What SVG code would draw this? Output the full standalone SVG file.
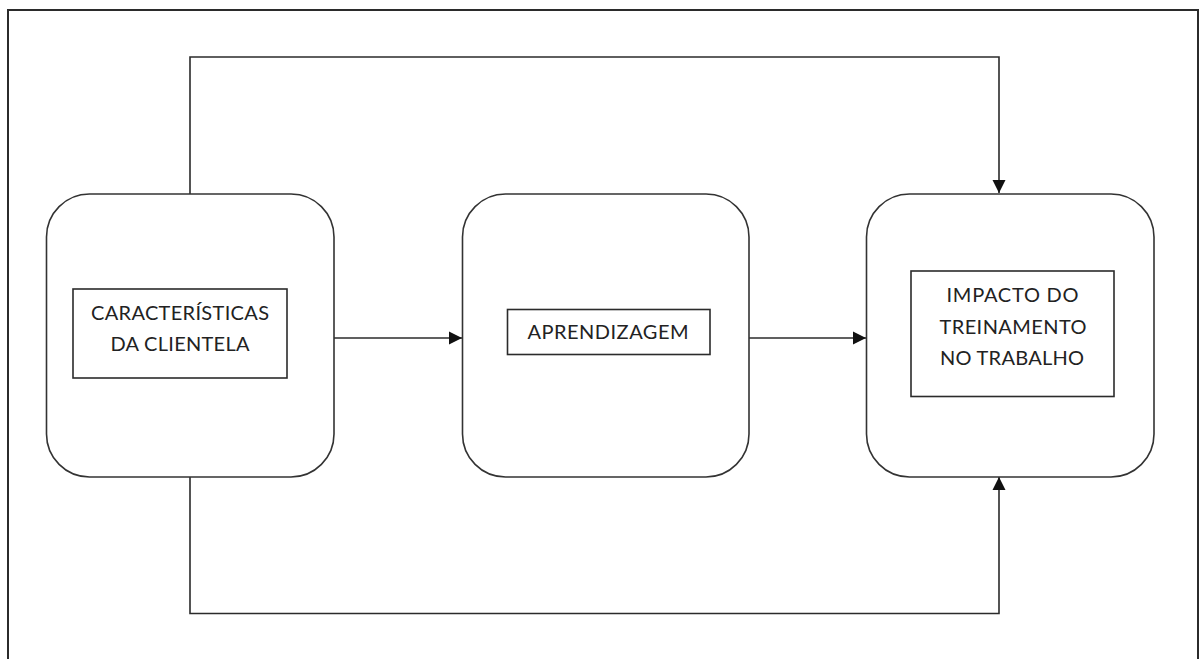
<svg xmlns="http://www.w3.org/2000/svg" width="1199" height="659" viewBox="0 0 1199 659">
  <style>
    .frame { fill: none; stroke: #2b2b2b; stroke-width: 2; }
    .stage { fill: #ffffff; stroke: #333333; stroke-width: 1.6; }
    .label-box { fill: #ffffff; stroke: #2b2b2b; stroke-width: 1.6; }
    .link { fill: none; stroke: #2b2b2b; stroke-width: 1.6; }
    .txt { font-family: "Lato", "Open Sans", "Liberation Sans", sans-serif; font-size: 20px; fill: #222222; text-anchor: middle; }
  </style>
  <defs>
    <marker id="arrow" markerUnits="userSpaceOnUse" markerWidth="14" markerHeight="14" viewBox="0 0 14 14" refX="13" refY="7" orient="auto">
      <path d="M0,0.5 L13,7 L0,13.5 Z" fill="#111111"/>
    </marker>
  </defs>

  <rect width="1199" height="659" fill="#ffffff"/>
  <!-- outer frame -->
  <path class="frame" d="M8,670 V10 H1198 V670"/>

  <!-- connectors -->
  <g id="connectors">
    <path class="link" d="M190,194 V57 H999 V193" marker-end="url(#arrow)"/>
    <path class="link" d="M190,477 V613.5 H999 V477" marker-end="url(#arrow)"/>
    <path class="link" d="M334,338 H462" marker-end="url(#arrow)"/>
    <path class="link" d="M749,338 H866" marker-end="url(#arrow)"/>
  </g>

  <g id="clientela">
    <rect class="stage" x="46.5" y="194" width="287.5" height="283" rx="43" ry="43"/>
    <rect class="label-box" x="73" y="289" width="214" height="89"/>
    <text class="txt" x="180" y="320" textLength="178" lengthAdjust="spacing">CARACTERÍSTICAS</text>
    <text class="txt" x="180" y="350.5" textLength="139" lengthAdjust="spacing">DA CLIENTELA</text>
  </g>

  <g id="aprendizagem">
    <rect class="stage" x="462.5" y="194" width="286.5" height="283" rx="43" ry="43"/>
    <rect class="label-box" x="507.5" y="309.5" width="202.5" height="45"/>
    <text class="txt" x="608" y="338.5" textLength="161" lengthAdjust="spacing">APRENDIZAGEM</text>
  </g>

  <g id="impacto">
    <rect class="stage" x="866.5" y="194" width="287.5" height="283" rx="43" ry="43"/>
    <rect class="label-box" x="911" y="271" width="203" height="125.5"/>
    <text class="txt" x="1012.5" y="301.5" textLength="132" lengthAdjust="spacing">IMPACTO DO</text>
    <text class="txt" x="1013" y="333.5" textLength="147" lengthAdjust="spacing">TREINAMENTO</text>
    <text class="txt" x="1012" y="365" textLength="144" lengthAdjust="spacing">NO TRABALHO</text>
  </g>
</svg>
